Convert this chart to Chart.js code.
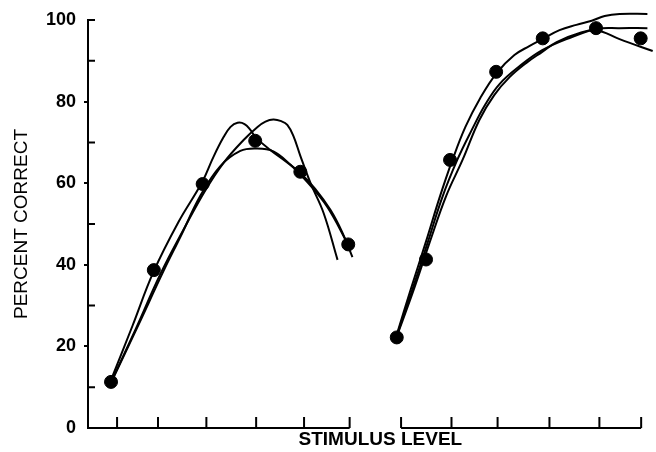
<!DOCTYPE html>
<html>
<head>
<meta charset="utf-8">
<script src="https://cdn.jsdelivr.net/npm/chart.js@4"></script>
<style>
  html, body { margin: 0; padding: 0; background: #fff; }
  #wrap { width: 656px; height: 452px; }
</style>
</head>
<body>
<div id="wrap"><canvas id="stimChart" width="656" height="452"></canvas></div>
<script>
// Tick positions along each stimulus axis (left panel / right panel)
const leftTicks = [1, 1.88, 2.92, 3.99, 5.02, 6];
const rightTicks = [1, 2.05, 3.01, 4.09, 5.13, 6];
const yTickValues = [0, 10, 20, 30, 40, 50, 60, 70, 80, 90, 100];

// Left panel data points
const leftLevels = [0.87, 1.79, 2.84, 3.97, 4.94, 5.97];
const leftPercent = [11.3, 38.7, 59.8, 70.4, 62.8, 45.0];

// Left panel fitted curves
const leftCurveAx = [0.86, 1.33, 1.78, 2.32, 2.83, 3.07, 3.29, 3.44, 3.59, 3.74, 3.87, 3.99, 4.30, 4.62, 4.94, 5.26, 5.59, 5.84, 6.06];
const leftCurveAy = [11.5, 25.0, 38.2, 50.5, 60.3, 66.4, 71.3, 73.8, 74.8, 74.5, 73.0, 71.1, 68.1, 65.4, 62.5, 58.6, 53.4, 48.0, 41.9];
const leftCurveBx = [0.86, 1.39, 1.93, 2.47, 2.90, 3.29, 3.72, 4.02, 4.19, 4.36, 4.53, 4.66, 4.79, 4.94, 5.16, 5.44, 5.74];
const leftCurveBy = [11.0, 24.0, 37.7, 49.5, 58.3, 65.0, 70.6, 73.8, 75.1, 75.6, 75.2, 74.3, 71.6, 66.7, 60.0, 52.7, 41.2];
const leftCurveCx = [0.88, 1.44, 2.00, 2.36, 2.79, 3.22, 3.65, 3.99, 4.36, 4.73, 5.09, 5.52, 5.97];
const leftCurveCy = [11.3, 24.8, 38.5, 46.8, 56.9, 64.2, 67.9, 68.5, 67.8, 64.5, 60.3, 54.2, 44.9];

// Right panel data points
const rightLevels = [0.91, 1.52, 2.02, 2.98, 3.95, 5.06, 5.99];
const rightPercent = [22.2, 41.3, 65.7, 87.3, 95.5, 98.0, 95.5];

// Right panel fitted curves
const rightCurveAx = [0.90, 1.21, 1.53, 1.80, 2.07, 2.34, 2.65, 2.99, 3.36, 3.67, 3.94, 4.30, 4.65, 4.97, 5.24, 5.55, 6.13];
const rightCurveAy = [22.5, 34.3, 46.1, 56.4, 65.7, 73.8, 80.9, 87.0, 91.4, 93.6, 95.3, 97.5, 98.8, 99.8, 101.0, 101.5, 101.5];
const rightCurveBx = [0.90, 1.24, 1.55, 1.86, 2.17, 2.47, 2.76, 3.05, 3.47, 3.94, 4.51, 5.07, 5.55, 6.13];
const rightCurveBy = [22.3, 34.1, 45.3, 56.6, 65.7, 73.0, 79.4, 84.3, 88.7, 92.6, 95.6, 97.8, 98.0, 98.0];
const rightCurveCx = [0.90, 1.26, 1.59, 1.94, 2.28, 2.63, 2.94, 3.26, 3.61, 3.94, 4.24, 4.72, 5.07, 5.55, 6.24];
const rightCurveCy = [22.1, 33.8, 45.3, 56.9, 65.7, 75.5, 81.6, 86.0, 89.5, 92.2, 94.6, 96.8, 97.5, 95.3, 92.4];

const toPoints = (xs, ys) => xs.map((x, i) => ({ x: x, y: ys[i] }));

const curve = (xs, ys, axis) => ({
  data: toPoints(xs, ys),
  xAxisID: axis,
  showLine: true,
  borderColor: '#000',
  borderWidth: 2,
  pointRadius: 0,
  tension: 0.4,
  clip: false,
  order: 2
});

const dots = (xs, ys, axis) => ({
  data: toPoints(xs, ys),
  xAxisID: axis,
  showLine: false,
  pointRadius: 6.5,
  pointBackgroundColor: '#000',
  pointBorderColor: '#000',
  clip: false,
  order: 1
});

// Draws the two broken stimulus axes, inward y ticks and x title
const axesPlugin = {
  id: 'axesPlugin',
  afterDraw(chart) {
    const ctx = chart.ctx;
    const area = chart.chartArea;
    const xl = chart.scales.xl;
    const xr = chart.scales.xr;
    const y = chart.scales.y;
    const base = area.bottom;

    ctx.save();
    ctx.strokeStyle = '#000';
    ctx.lineWidth = 2;

    // left stimulus axis
    ctx.beginPath();
    ctx.moveTo(area.left, base);
    ctx.lineTo(xl.getPixelForValue(leftTicks[leftTicks.length - 1]), base);
    leftTicks.forEach(t => {
      const px = xl.getPixelForValue(t);
      ctx.moveTo(px, base);
      ctx.lineTo(px, base - 11);
    });
    ctx.stroke();

    // right stimulus axis
    ctx.beginPath();
    ctx.moveTo(xr.getPixelForValue(rightTicks[0]), base);
    ctx.lineTo(xr.getPixelForValue(rightTicks[rightTicks.length - 1]), base);
    rightTicks.forEach(t => {
      const px = xr.getPixelForValue(t);
      ctx.moveTo(px, base);
      ctx.lineTo(px, base - 11);
    });
    ctx.stroke();

    // inward ticks on the percent axis
    ctx.beginPath();
    yTickValues.forEach(v => {
      if (v % 20 !== 0 || v === 100) {
        const py = y.getPixelForValue(v);
        ctx.moveTo(area.left, py);
        ctx.lineTo(area.left + 7, py);
      }
    });
    ctx.stroke();

    // x axis title, centred in the gap between panels
    const gapMid =
      (xl.getPixelForValue(leftTicks[leftTicks.length - 1]) +
        xr.getPixelForValue(rightTicks[0])) / 2;
    ctx.fillStyle = '#000';
    ctx.font = 'bold 19px "Liberation Sans", Arial, sans-serif';
    ctx.textAlign = 'center';
    ctx.textBaseline = 'middle';
    ctx.fillText('STIMULUS LEVEL', gapMid + 5, base + 12);
    ctx.restore();
  }
};

const ctx = document.getElementById('stimChart').getContext('2d');

const stimChart = new Chart(ctx, {
  type: 'scatter',
  data: {
    datasets: [
      dots(leftLevels, leftPercent, 'xl'),
      dots(rightLevels, rightPercent, 'xr'),
      curve(leftCurveAx, leftCurveAy, 'xl'),
      curve(leftCurveBx, leftCurveBy, 'xl'),
      curve(leftCurveCx, leftCurveCy, 'xl'),
      curve(rightCurveAx, rightCurveAy, 'xr'),
      curve(rightCurveBx, rightCurveBy, 'xr'),
      curve(rightCurveCx, rightCurveCy, 'xr')
    ]
  },
  options: {
    responsive: false,
    animation: false,
    layout: {
      padding: { left: 0, right: 11, top: 20, bottom: 24 }
    },
    plugins: {
      legend: { display: false },
      tooltip: { enabled: false }
    },
    scales: {
      xl: {
        type: 'linear',
        position: 'bottom',
        display: false,
        min: 0.375,
        max: 12.35
      },
      xr: {
        type: 'linear',
        position: 'bottom',
        display: false,
        min: -5.52,
        max: 6.08
      },
      y: {
        type: 'linear',
        min: 0,
        max: 100,
        afterFit(scale) {
          scale.width = 88;
        },
        afterBuildTicks(scale) {
          scale.ticks = yTickValues.map(v => ({ value: v }));
        },
        border: { display: true, color: '#000', width: 2 },
        grid: {
          drawOnChartArea: false,
          drawTicks: true,
          tickLength: 4,
          lineWidth: 2,
          color: c =>
            c.tick && c.tick.value % 20 === 0 && c.tick.value > 0 && c.tick.value < 100
              ? '#000'
              : 'rgba(0,0,0,0)'
        },
        ticks: {
          color: '#000',
          padding: 8,
          font: { family: '"Liberation Sans", Arial, sans-serif', size: 18, weight: 'bold' },
          callback: v => (v % 20 === 0 ? v : '')
        },
        title: {
          display: true,
          text: 'PERCENT CORRECT',
          color: '#000',
          padding: { top: 10, bottom: 0 },
          font: { family: '"Liberation Sans", Arial, sans-serif', size: 19 }
        }
      }
    }
  },
  plugins: [axesPlugin]
});
</script>
</body>
</html>
